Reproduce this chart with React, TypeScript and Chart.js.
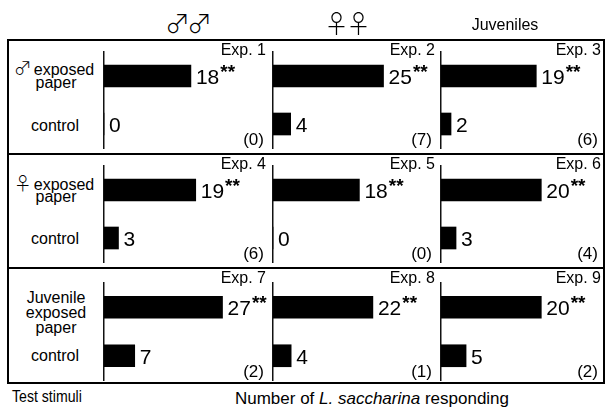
import React, { useEffect, useRef } from 'react';
import { Chart, registerables } from 'chart.js';

Chart.register(...registerables);

const FONT = '"Liberation Sans", Arial, Helvetica, sans-serif';
const SYMBOL_FONT = '"Noto Sans CJK JP", "DejaVu Sans", sans-serif';

// ---- data ----
const columnTitles = ['♂♂', '♀♀', 'Juveniles'];
const rowSymbols = ['♂', '♀', ''];
const rowStimuli = [
  ['exposed', 'paper'],
  ['exposed', 'paper'],
  ['Juvenile', 'exposed', 'paper'],
];
const categories = ['exposed paper', 'control'];
const experimentLabels = ['Exp. 1', 'Exp. 2', 'Exp. 3', 'Exp. 4', 'Exp. 5', 'Exp. 6', 'Exp. 7', 'Exp. 8', 'Exp. 9'];
const exposedValues = [18, 25, 19, 19, 18, 20, 27, 22, 20];
const controlValues = [0, 4, 2, 3, 0, 3, 7, 4, 5];
const noChoiceCounts = [0, 7, 6, 6, 0, 4, 2, 1, 2];
const exposedSignificance = ['**', '**', '**', '**', '**', '**', '**', '**', '**'];
const axisMax = [35, 38, 32.5, 35, 35, 32.5, 38.5, 37, 32.5];
const xAxisTitle = ['Number of ', 'L. saccharina', ' responding'];
const yAxisTitle = 'Test stimuli';

// ---- layout ----
const ROW_TOP = [40, 154, 268];
const ROW_BOTTOM = [154, 268, 383];
const AXIS_SPAN = [
  [52, 148],
  [166, 262],
  [283, 380],
];
const AXIS_X = [104, 273, 441];
const PANEL_RIGHT = [273, 441, 604];
const EXP_RIGHT = [266, 435, 601];
const COUNT_RIGHT = [264, 432, 598];

function Panel({ idx }: { idx: number }) {
  const ref = useRef<HTMLCanvasElement>(null);
  const row = Math.floor(idx / 3);
  const col = idx % 3;
  const left = AXIS_X[col] - 3;
  const width = PANEL_RIGHT[col] - left;
  const top = ROW_TOP[row];
  const height = ROW_BOTTOM[row] - top;

  useEffect(() => {
    const values = [exposedValues[idx], controlValues[idx]];
    const sigs = [exposedSignificance[idx], ''];
    const labelPlugin = {
      id: 'valueLabels',
      afterDatasetsDraw(chart: any) {
        const meta = chart.getDatasetMeta(0);
        const ctx = chart.ctx;
        meta.data.forEach((bar: any, i: number) => {
          const txt = String(values[i]);
          const x = bar.x + 5;
          const base = bar.y + 8;
          ctx.save();
          ctx.fillStyle = '#000';
          ctx.textAlign = 'left';
          ctx.textBaseline = 'alphabetic';
          ctx.font = `21px ${FONT}`;
          ctx.fillText(txt, x, base);
          const w = ctx.measureText(txt).width;
          if (sigs[i]) {
            ctx.font = `bold 19px ${FONT}`;
            ctx.fillText(sigs[i], x + w + 1, base - 6);
          }
          ctx.restore();
        });
      },
    };
    const chart = new Chart(ref.current as HTMLCanvasElement, {
      type: 'bar',
      data: {
        labels: categories,
        datasets: [
          {
            data: values,
            backgroundColor: '#000',
            borderWidth: 0,
            barThickness: 22,
          },
        ],
      },
      options: {
        indexAxis: 'y',
        responsive: false,
        animation: false,
        layout: {
          padding: {
            left: 3,
            right: 0,
            top: AXIS_SPAN[row][0] - top,
            bottom: ROW_BOTTOM[row] - AXIS_SPAN[row][1],
          },
        },
        plugins: {
          legend: { display: false },
          tooltip: { enabled: false },
        },
        scales: {
          x: { display: false, min: 0, max: axisMax[idx] },
          y: {
            display: true,
            grid: { display: false, drawTicks: false },
            ticks: { display: false },
            border: { display: true, color: '#111', width: 1.5 },
          },
        },
      },
      plugins: [labelPlugin],
    } as any);
    return () => chart.destroy();
  }, [idx]);

  return (
    <canvas
      ref={ref}
      width={width}
      height={height}
      style={{ position: 'absolute', left, top, width, height }}
    />
  );
}

function Txt({
  x,
  y,
  children,
  size = 16,
  align = 'center',
  sx = 1,
  style = {},
}: {
  x: number;
  y: number;
  children: any;
  size?: number;
  align?: 'center' | 'right' | 'left';
  sx?: number;
  style?: any;
}) {
  const tx = align === 'center' ? '-50%' : align === 'right' ? '-100%' : '0';
  const origin = align === 'center' ? 'center' : align === 'right' ? 'right' : 'left';
  return (
    <div
      style={{
        position: 'absolute',
        left: x,
        top: y,
        transform: `translate(${tx}, -50%) scaleX(${sx})`,
        transformOrigin: `${origin} center`,
        whiteSpace: 'nowrap',
        lineHeight: 1,
        fontSize: size,
        fontFamily: FONT,
        color: '#000',
        ...style,
      }}
    >
      {children}
    </div>
  );
}

export default function App() {
  const labelLineY = [
    [68, 83],
    [183, 197],
    [298, 313, 328],
  ];
  const controlY = [126, 239, 356];
  return (
    <div style={{ position: 'absolute', left: 0, top: 0, width: 607, height: 407, background: '#fff', overflow: 'hidden' }}>
      {/* frame */}
      <div style={{ position: 'absolute', left: 7, top: 39, width: 598, height: 345, border: '2px solid #000', boxSizing: 'border-box' }} />
      <div style={{ position: 'absolute', left: 7, top: 153, width: 598, height: 2, background: '#000' }} />
      <div style={{ position: 'absolute', left: 7, top: 267, width: 598, height: 2, background: '#000' }} />

      {experimentLabels.map((_, i) => (
        <Panel key={i} idx={i} />
      ))}

      {/* column titles */}
      <Txt x={187} y={22} size={25} style={{ fontFamily: SYMBOL_FONT, fontWeight: 300, letterSpacing: -3 }}>{columnTitles[0]}</Txt>
      <Txt x={346} y={22} size={25} style={{ fontFamily: SYMBOL_FONT, fontWeight: 300, letterSpacing: -3 }}>{columnTitles[1]}</Txt>
      <Txt x={505} y={25} size={16}>{columnTitles[2]}</Txt>

      {/* row stimuli labels */}
      {rowStimuli.map((lines, r) =>
        lines.map((line, j) => (
          <Txt key={`s${r}-${j}`} x={j === 0 && rowSymbols[r] ? 54 : 56} y={labelLineY[r][j]} size={16}>
            {j === 0 && rowSymbols[r] ? (
              <span style={{ fontFamily: SYMBOL_FONT, fontWeight: 300, fontSize: 18, marginRight: 2, position: 'relative', top: 0 }}>
                {rowSymbols[r]}
              </span>
            ) : null}
            {line}
          </Txt>
        ))
      )}
      {controlY.map((y, r) => (
        <Txt key={`c${r}`} x={55} y={y} size={16}>
          {categories[1]}
        </Txt>
      ))}

      {/* experiment labels and no-choice counts */}
      {experimentLabels.map((lab, i) => {
        const row = Math.floor(i / 3);
        const col = i % 3;
        return (
          <React.Fragment key={`e${i}`}>
            <Txt x={EXP_RIGHT[col]} y={ROW_TOP[row] + 10} size={16} align="right">
              {lab}
            </Txt>
            <Txt x={COUNT_RIGHT[col]} y={AXIS_SPAN[row][1] - 9} size={17} align="right">
              ({noChoiceCounts[i]})
            </Txt>
          </React.Fragment>
        );
      })}

      {/* axis titles */}
      <Txt x={12} y={396} size={17} align="left" sx={0.83}>{yAxisTitle}</Txt>
      <Txt x={372} y={398} size={17}>
        {xAxisTitle[0]}
        <i>{xAxisTitle[1]}</i>
        {xAxisTitle[2]}
      </Txt>
    </div>
  );
}
